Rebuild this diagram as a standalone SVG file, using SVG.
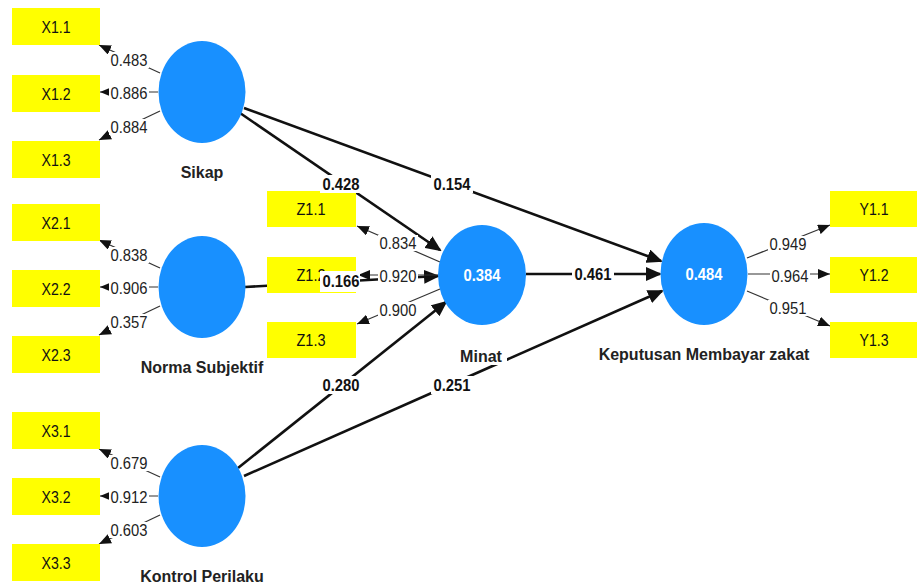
<svg xmlns="http://www.w3.org/2000/svg" width="917" height="587" viewBox="0 0 917 587">
  <style>
    .lv { fill: #1890ff; }
    .ind rect { fill: #ffff00; }
    .ind text { font-family: "Liberation Sans", Arial, sans-serif; font-size: 16px; fill: #111; text-anchor: middle; }
    .name { font-family: "Liberation Sans", Arial, sans-serif; font-size: 16px; font-weight: bold; fill: #222; text-anchor: middle; }
    .r2 { font-family: "Liberation Sans", Arial, sans-serif; font-size: 17px; font-weight: bold; fill: #ffffff; text-anchor: middle; }
    .path { stroke: #111; stroke-width: 2.6; fill: none; marker-end: url(#bigHead); }
    .load { stroke: #333; stroke-width: 1.2; fill: none; marker-end: url(#smallHead); }
    .bg { fill: #ffffff; }
    .coef { font-family: "Liberation Sans", Arial, sans-serif; font-size: 17px; font-weight: bold; fill: #111; text-anchor: middle; }
    .ld { font-family: "Liberation Sans", Arial, sans-serif; font-size: 17px; fill: #222; text-anchor: middle; }
  </style>
  <defs>
    <marker id="bigHead" markerUnits="userSpaceOnUse" markerWidth="16" markerHeight="14" refX="14" refY="7" orient="auto">
      <path d="M0,0 L16,7 L0,14 z" fill="#111"/>
    </marker>
    <marker id="smallHead" markerUnits="userSpaceOnUse" markerWidth="12" markerHeight="10" refX="12" refY="5" orient="auto">
      <path d="M0,0 L12,5 L0,10 z" fill="#111"/>
    </marker>
  </defs>
  <rect width="917" height="587" fill="#ffffff"/>

  <!-- connectors: structural paths and outer loadings -->
  <g id="connectors">
    <line class="path" x1="240" y1="113" x2="440" y2="250"/>
    <line class="path" x1="244" y1="108" x2="661" y2="261"/>
    <line class="path" x1="245" y1="287" x2="438" y2="276"/>
    <line class="path" x1="526" y1="274" x2="660" y2="274"/>
    <line class="path" x1="238" y1="468" x2="446" y2="302"/>
    <line class="path" x1="244" y1="476" x2="662" y2="291"/>

    <line class="load" x1="160" y1="73" x2="99" y2="45"/>
    <line class="load" x1="158" y1="92" x2="100" y2="92"/>
    <line class="load" x1="160" y1="111" x2="99" y2="140"/>
    <line class="load" x1="160" y1="268" x2="99" y2="240"/>
    <line class="load" x1="158" y1="287" x2="100" y2="287"/>
    <line class="load" x1="160" y1="306" x2="99" y2="335"/>
    <line class="load" x1="160" y1="477" x2="99" y2="449"/>
    <line class="load" x1="158" y1="496" x2="100" y2="496"/>
    <line class="load" x1="160" y1="515" x2="99" y2="544"/>

    <line class="load" x1="440" y1="262" x2="357" y2="226"/>
    <line class="load" x1="438" y1="275" x2="358" y2="275"/>
    <line class="load" x1="440" y1="289" x2="357" y2="324"/>

    <line class="load" x1="747" y1="258" x2="830" y2="225"/>
    <line class="load" x1="748" y1="274" x2="830" y2="274"/>
    <line class="load" x1="747" y1="291" x2="830" y2="326"/>
  </g>

  <!-- latent variables -->
  <g id="sikap">
    <ellipse class="lv" cx="202" cy="92" rx="43.5" ry="51"/>
    <text class="name" x="202" y="178">Sikap</text>
  </g>
  <g id="norma-subjektif">
    <ellipse class="lv" cx="202" cy="287" rx="43.5" ry="51"/>
    <text class="name" x="202" y="373">Norma Subjektif</text>
  </g>
  <g id="kontrol-perilaku">
    <ellipse class="lv" cx="202" cy="496" rx="43.5" ry="51"/>
    <text class="name" x="202" y="582">Kontrol Perilaku</text>
  </g>
  <g id="minat">
    <ellipse class="lv" cx="482" cy="275" rx="44" ry="50"/>
    <text class="r2" x="482" y="281" textLength="37" lengthAdjust="spacingAndGlyphs">0.384</text>
    <rect class="bg" x="458" y="346" width="49" height="19"/>
    <text class="name" x="481" y="362">Minat</text>
  </g>
  <g id="keputusan">
    <ellipse class="lv" cx="704" cy="274" rx="43.5" ry="51"/>
    <text class="r2" x="704" y="280" textLength="37" lengthAdjust="spacingAndGlyphs">0.484</text>
    <text class="name" x="704" y="360">Keputusan Membayar zakat</text>
  </g>

  <!-- indicators -->
  <g id="x1-1" class="ind"><rect x="12" y="8" width="88" height="37"/><text x="56" y="33" textLength="29" lengthAdjust="spacingAndGlyphs">X1.1</text></g>
  <g id="x1-2" class="ind"><rect x="12" y="75" width="88" height="37"/><text x="56" y="100" textLength="29" lengthAdjust="spacingAndGlyphs">X1.2</text></g>
  <g id="x1-3" class="ind"><rect x="12" y="141" width="88" height="37"/><text x="56" y="166" textLength="29" lengthAdjust="spacingAndGlyphs">X1.3</text></g>
  <g id="x2-1" class="ind"><rect x="12" y="204" width="88" height="37"/><text x="56" y="229" textLength="29" lengthAdjust="spacingAndGlyphs">X2.1</text></g>
  <g id="x2-2" class="ind"><rect x="12" y="270" width="88" height="37"/><text x="56" y="295" textLength="29" lengthAdjust="spacingAndGlyphs">X2.2</text></g>
  <g id="x2-3" class="ind"><rect x="12" y="336" width="88" height="37"/><text x="56" y="361" textLength="29" lengthAdjust="spacingAndGlyphs">X2.3</text></g>
  <g id="x3-1" class="ind"><rect x="12" y="412" width="88" height="37"/><text x="56" y="437" textLength="29" lengthAdjust="spacingAndGlyphs">X3.1</text></g>
  <g id="x3-2" class="ind"><rect x="12" y="478" width="88" height="37"/><text x="56" y="503" textLength="29" lengthAdjust="spacingAndGlyphs">X3.2</text></g>
  <g id="x3-3" class="ind"><rect x="12" y="544" width="88" height="37"/><text x="56" y="569" textLength="29" lengthAdjust="spacingAndGlyphs">X3.3</text></g>

  <g id="z1-1" class="ind"><rect x="267" y="191" width="89" height="36"/><text x="311" y="215" textLength="29" lengthAdjust="spacingAndGlyphs">Z1.1</text></g>
  <g id="z1-2" class="ind"><rect x="267" y="257" width="89" height="36"/><text x="311" y="281" textLength="29" lengthAdjust="spacingAndGlyphs">Z1.2</text></g>
  <g id="z1-3" class="ind"><rect x="267" y="322" width="89" height="36"/><text x="311" y="346" textLength="29" lengthAdjust="spacingAndGlyphs">Z1.3</text></g>

  <g id="y1-1" class="ind"><rect x="830" y="191" width="87" height="36"/><text x="874" y="215" textLength="29" lengthAdjust="spacingAndGlyphs">Y1.1</text></g>
  <g id="y1-2" class="ind"><rect x="830" y="257" width="87" height="36"/><text x="874" y="281" textLength="29" lengthAdjust="spacingAndGlyphs">Y1.2</text></g>
  <g id="y1-3" class="ind"><rect x="830" y="322" width="87" height="36"/><text x="874" y="346" textLength="29" lengthAdjust="spacingAndGlyphs">Y1.3</text></g>

  <!-- path coefficients -->
  <g id="path-labels">
    <rect class="bg" x="320" y="175" width="42" height="18"/>
    <text class="coef" x="341" y="190" textLength="37" lengthAdjust="spacingAndGlyphs">0.428</text>
    <rect class="bg" x="431" y="175" width="42" height="18"/>
    <text class="coef" x="452" y="190" textLength="37" lengthAdjust="spacingAndGlyphs">0.154</text>
    <rect class="bg" x="320" y="271" width="40" height="21"/>
    <text class="coef" x="341" y="287" textLength="37" lengthAdjust="spacingAndGlyphs">0.166</text>
    <rect class="bg" x="572" y="265" width="42" height="18"/>
    <text class="coef" x="593" y="280" textLength="37" lengthAdjust="spacingAndGlyphs">0.461</text>
    <rect class="bg" x="320" y="376" width="42" height="18"/>
    <text class="coef" x="341" y="391" textLength="37" lengthAdjust="spacingAndGlyphs">0.280</text>
    <rect class="bg" x="431" y="376" width="42" height="18"/>
    <text class="coef" x="452" y="391" textLength="37" lengthAdjust="spacingAndGlyphs">0.251</text>
  </g>

  <!-- outer loadings -->
  <g id="loading-labels">
    <rect class="bg" x="109" y="52" width="40" height="16"/><text class="ld" x="129" y="66" textLength="37" lengthAdjust="spacingAndGlyphs">0.483</text>
    <rect class="bg" x="109" y="85" width="40" height="16"/><text class="ld" x="129" y="99" textLength="37" lengthAdjust="spacingAndGlyphs">0.886</text>
    <rect class="bg" x="109" y="119" width="40" height="16"/><text class="ld" x="129" y="133" textLength="37" lengthAdjust="spacingAndGlyphs">0.884</text>
    <rect class="bg" x="109" y="247" width="40" height="16"/><text class="ld" x="129" y="261" textLength="37" lengthAdjust="spacingAndGlyphs">0.838</text>
    <rect class="bg" x="109" y="280" width="40" height="16"/><text class="ld" x="129" y="294" textLength="37" lengthAdjust="spacingAndGlyphs">0.906</text>
    <rect class="bg" x="109" y="314" width="40" height="16"/><text class="ld" x="129" y="328" textLength="37" lengthAdjust="spacingAndGlyphs">0.357</text>
    <rect class="bg" x="109" y="455" width="40" height="16"/><text class="ld" x="129" y="469" textLength="37" lengthAdjust="spacingAndGlyphs">0.679</text>
    <rect class="bg" x="109" y="489" width="40" height="16"/><text class="ld" x="129" y="503" textLength="37" lengthAdjust="spacingAndGlyphs">0.912</text>
    <rect class="bg" x="109" y="522" width="40" height="16"/><text class="ld" x="129" y="536" textLength="37" lengthAdjust="spacingAndGlyphs">0.603</text>

    <rect class="bg" x="378" y="235" width="40" height="16"/><text class="ld" x="398" y="249" textLength="37" lengthAdjust="spacingAndGlyphs">0.834</text>
    <rect class="bg" x="378" y="268" width="40" height="16"/><text class="ld" x="398" y="282" textLength="37" lengthAdjust="spacingAndGlyphs">0.920</text>
    <rect class="bg" x="378" y="302" width="40" height="16"/><text class="ld" x="398" y="316" textLength="37" lengthAdjust="spacingAndGlyphs">0.900</text>

    <rect class="bg" x="768" y="236" width="40" height="16"/><text class="ld" x="788" y="250" textLength="37" lengthAdjust="spacingAndGlyphs">0.949</text>
    <rect class="bg" x="770" y="268" width="40" height="16"/><text class="ld" x="790" y="282" textLength="37" lengthAdjust="spacingAndGlyphs">0.964</text>
    <rect class="bg" x="768" y="300" width="40" height="16"/><text class="ld" x="788" y="314" textLength="37" lengthAdjust="spacingAndGlyphs">0.951</text>
  </g>
</svg>
